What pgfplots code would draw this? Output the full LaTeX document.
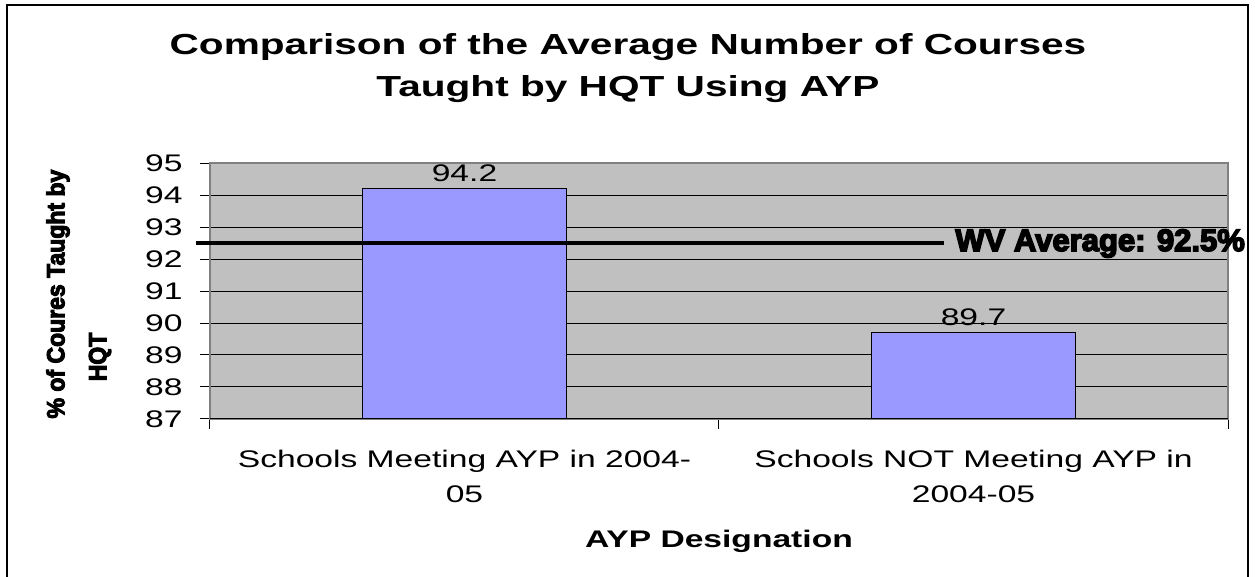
\documentclass[border=0pt]{standalone}
\usepackage{fontspec}
\setmainfont{Liberation Sans}[FakeStretch=1.4]
\newfontfamily\heavyfont{Liberation Sans}[BoldFeatures={FakeBold=5}]
\newfontfamily\ylabfont{Liberation Sans}[FakeStretch=0.92, BoldFeatures={FakeBold=4}]
\usepackage{pgfplots}
\pgfplotsset{compat=1.18}

\definecolor{plotgray}{HTML}{C0C0C0}
\definecolor{barblue}{HTML}{9999FF}
\definecolor{edgegray}{HTML}{808080}

\begin{document}
\begin{tikzpicture}
\useasboundingbox (-105pt,-79pt) rectangle (522.5pt,209.5pt);

% chart frame (bottom edge is cut off in the original)
\draw[black, line width=1pt] (-101.5pt,-80pt) -- (-101.5pt,207pt) -- (519pt,207pt) -- (519pt,-80pt);

% title
\node[anchor=base, inner sep=0pt, font=\bfseries\fontsize{14.5}{17}\selectfont] at (209pt,182pt)
  {Comparison of the Average Number of Courses};
\node[anchor=base, inner sep=0pt, font=\bfseries\fontsize{14.5}{17}\selectfont] at (209pt,161pt)
  {Taught by HQT Using AYP};

\begin{axis}[
  at={(0pt,0pt)}, anchor=south west,
  scale only axis, width=509pt, height=128pt,
  xmin=-0.5, xmax=1.5, ymin=87, ymax=95,
  axis background/.style={fill=plotgray},
  axis line style={draw=edgegray, line width=0.6pt},
  ytick={87,88,...,95},
  ymajorgrids, grid style={black, line width=0.5pt},
  tick align=outside, major tick length=5pt,
  tick style={black, line width=0.5pt},
  xtick pos=bottom, ytick pos=left,
  xtick={-0.5,0.5,1.5}, xticklabels={},
  extra x ticks={0,1},
  extra x tick labels={{Schools Meeting AYP in 2004-\\05},{Schools NOT Meeting AYP in\\2004-05}},
  extra x tick style={major tick length=0pt,
    xticklabel style={align=center, anchor=north, inner sep=0pt, yshift=-15.2pt,
      font=\fontsize{12}{17.5}\selectfont}},
  yticklabel style={anchor=east, inner sep=0pt, xshift=-8.5pt, font=\fontsize{12}{14}\selectfont},
  /pgf/number format/assume math mode=true,
  xlabel={AYP Designation},
  xlabel style={at={(axis description cs:0.5,0)}, anchor=base, yshift=-64.5pt,
    font=\bfseries\fontsize{12}{14}\selectfont},
  ylabel={\% of Coures Taught by},
  ylabel style={at={(axis description cs:-0.1493,0.488)}, anchor=center,
    font=\ylabfont\bfseries\fontsize{12.5}{14}\selectfont},
]
\addplot[ybar, bar width=102pt, fill=barblue, draw=black, line width=0.6pt,
  nodes near coords,
  nodes near coords style={anchor=south, inner sep=0pt, yshift=3pt, black,
    font=\fontsize{12}{14}\selectfont,
    /pgf/number format/.cd, fixed, precision=1, fixed zerofill}]
  coordinates {(0,94.2) (1,89.7)};
\draw[black, line width=0.6pt] (axis cs:-0.5,87) -- (axis cs:1.5,87);
\end{axis}

% second line of the y label
\node[rotate=90, inner sep=0pt, font=\ylabfont\bfseries\fontsize{12.5}{14}\selectfont]
  at (-55pt,31pt) {HQT};

% overlay axis for the state average line (runs past the plot edge)
\begin{axis}[
  at={(0pt,0pt)}, anchor=south west,
  scale only axis, width=509pt, height=128pt,
  xmin=-0.5, xmax=1.5, ymin=87, ymax=95,
  hide axis, clip=false,
]
\addplot[black, line width=2.2pt] coordinates {(-0.5275,92.5) (0.942,92.5)};
\node[anchor=base west, inner sep=0pt, font=\heavyfont\bfseries\fontsize{15.5}{17}\selectfont]
  at (axis cs:0.9637,92.25) {WV Average: 92.5\%};
\end{axis}
\end{tikzpicture}
\end{document}
